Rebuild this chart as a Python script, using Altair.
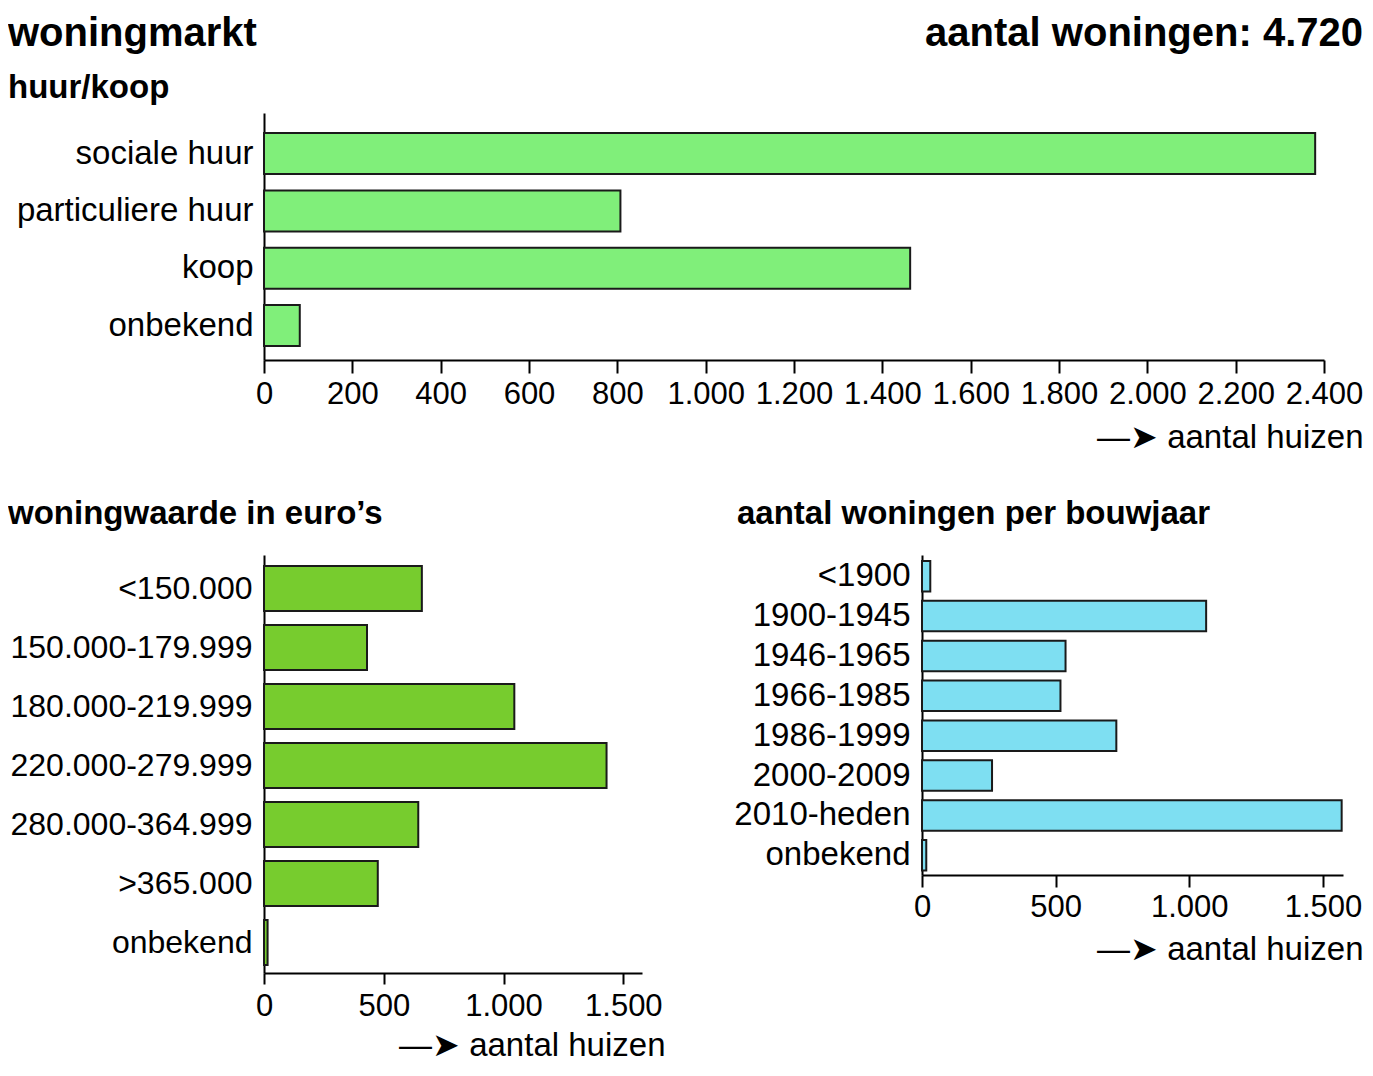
import altair as alt
import pandas as pd

# ---------------- data ----------------
tenure_cats = ["sociale huur", "particuliere huur", "koop", "onbekend"]
tenure_vals = [2380, 807, 1463, 81]

value_cats = ["<150.000", "150.000-179.999", "180.000-219.999", "220.000-279.999",
              "280.000-364.999", ">365.000", "onbekend"]
value_vals = [659, 430, 1045, 1430, 644, 475, 15]

year_cats = ["<1900", "1900-1945", "1946-1965", "1966-1985", "1986-1999",
             "2000-2009", "2010-heden", "onbekend"]
year_vals = [31, 1063, 537, 518, 727, 262, 1570, 16]

top_ticks = [0, 200, 400, 600, 800, 1000, 1200, 1400, 1600, 1800, 2000, 2200, 2400]
bottom_ticks = [0, 500, 1000, 1500]

main_title = "woningmarkt"
total_label = "aantal woningen: 4.720"
axis_title = "—➤ aantal huizen"

# ---------------- style ----------------
FONT = "Liberation Sans"
LBL = "replace(format(datum.value, ','), ',', '.')"
STROKE = "#1a1a1a"

df_t = pd.DataFrame({"cat": tenure_cats, "n": tenure_vals})
df_v = pd.DataFrame({"cat": value_cats, "n": value_vals})
df_y = pd.DataFrame({"cat": year_cats, "n": year_vals})


def x_axis(values, tick, pad, title_x, title_y):
    return alt.Axis(values=values, labelExpr=LBL, tickSize=tick, labelPadding=pad,
                    labelFontSize=31, labelFlush=False, labelOverlap=False,
                    title=axis_title, titleX=title_x, titleY=title_y,
                    titleAlign="right", titleBaseline="alphabetic",
                    titleFontSize=33, titleFontWeight="normal")


def y_axis(pad, size):
    return alt.Axis(title=None, ticks=False, labelPadding=pad, labelFontSize=size,
                    labelLimit=500)


bars_t = alt.Chart(df_t).mark_bar(color="#80EF7A", stroke=STROKE, strokeWidth=2).encode(
    x=alt.X("n:Q", scale=alt.Scale(domain=[0, 2400], nice=False),
            axis=x_axis(top_ticks, 13, 6, 1099, 87)),
    y=alt.Y("cat:N", sort=tenure_cats,
            scale=alt.Scale(paddingInner=0.285, paddingOuter=0.297, align=0.59),
            axis=y_axis(11, 33)),
)

total_txt = alt.Chart(pd.DataFrame({"t": [total_label]})).mark_text(
    align="right", baseline="alphabetic", fontSize=40, fontWeight="bold",
    font=FONT, color="black"
).encode(text="t:N", x=alt.value(1099), y=alt.value(-67.4))

top = alt.layer(bars_t, total_txt).properties(
    width=1060, height=247,
    title=alt.TitleParams(text=main_title, subtitle="huur/koop", anchor="start",
                          frame="group", dx=-256, offset=-91, subtitlePadding=18,
                          fontSize=40, fontWeight="bold", font=FONT, color="black",
                          subtitleFontSize=33, subtitleFontWeight="bold",
                          subtitleFont=FONT, subtitleColor="black"),
)

bl = alt.Chart(df_v).mark_bar(color="#77CC2E", stroke=STROKE, strokeWidth=2).encode(
    x=alt.X("n:Q", scale=alt.Scale(domain=[0, 1578], nice=False),
            axis=x_axis(bottom_ticks, 11, 7, 401, 82)),
    y=alt.Y("cat:N", sort=value_cats,
            scale=alt.Scale(paddingInner=0.237, paddingOuter=0.161, align=0.58),
            axis=y_axis(12, 32)),
).properties(
    width=378, height=418,
    title=alt.TitleParams(text="woningwaarde in euro’s", anchor="start", frame="group",
                          dx=-256, offset=24, fontSize=33, fontWeight="bold",
                          font=FONT, color="black"),
)

br = alt.Chart(df_y).mark_bar(color="#7EDFF2", stroke=STROKE, strokeWidth=2).encode(
    x=alt.X("n:Q", scale=alt.Scale(domain=[0, 1575], nice=False),
            axis=x_axis(bottom_ticks, 12, 5, 441, 84)),
    y=alt.Y("cat:N", sort=year_cats,
            scale=alt.Scale(paddingInner=0.235, paddingOuter=0.13, align=0.57),
            axis=y_axis(12, 33)),
).properties(
    width=421, height=320,
    title=alt.TitleParams(text="aantal woningen per bouwjaar", anchor="start", frame="group",
                          dx=-185, offset=24, fontSize=33, fontWeight="bold",
                          font=FONT, color="black"),
)

bottom = alt.hconcat(bl, br, spacing=280, bounds="flush")

chart = alt.vconcat(
    top, bottom, spacing=195, bounds="flush",
    padding={"top": 5, "left": 0, "right": 0, "bottom": 0}
).configure(
    font=FONT
).configure_view(
    strokeWidth=0
).configure_axis(
    domainColor="black", domainWidth=2, tickColor="black", tickWidth=2,
    labelColor="black", titleColor="black", labelFont=FONT, titleFont=FONT, grid=False
)

chart.save("out.html", embed_options={"renderer": "svg", "actions": False})
